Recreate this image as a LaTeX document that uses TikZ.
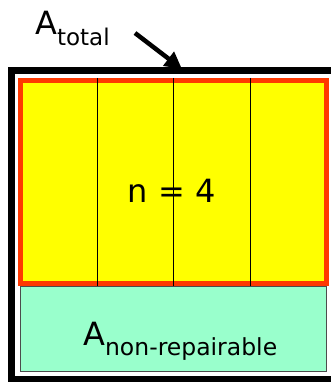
\documentclass[tikz,border=0pt]{standalone}
\usepackage{fontspec}
\setmainfont{DejaVu Sans}
\usetikzlibrary{arrows.meta}
\definecolor{cellyellow}{RGB}{255,255,0}
\definecolor{edgered}{RGB}{255,56,0}
\definecolor{mintgreen}{RGB}{153,255,204}

\begin{document}
\begin{tikzpicture}[x=1pt, y=-1pt,
  outerbox/.style={draw, line width=7pt, minimum width=326pt, minimum height=309pt, inner sep=0pt},
  repbox/.style={draw=edgered, fill=cellyellow, line width=5pt, minimum width=306pt, minimum height=203pt, inner sep=0pt},
  nonbox/.style={draw=black!70, fill=mintgreen, line width=0.8pt, minimum width=305.3pt, minimum height=85pt, inner sep=0pt},
  arr/.style={-{Triangle[length=17pt, width=17pt]}, line width=4.5pt},
  lbl/.style={font=\fontsize{32}{32}\selectfont, inner sep=0pt}
]
  \useasboundingbox (0,0) rectangle (330,382);

  \node[outerbox] (total) at (174.5,225) {};
  \node[nonbox] (nonrep) at (173.35,328.5) {};
  \node[repbox] (rep) at (173.5,182) {};

  % the four cells
  \foreach \i in {1,2,3}
    \draw[line width=0.8pt] ([xshift=\i*76.5pt-153pt]rep.north) -- ([xshift=\i*76.5pt-153pt]rep.south);

  \node[lbl, anchor=base] (n) at (171.5,202) {n = 4};

  \node[lbl, anchor=base west] (atotal) at (35,35) {A\raisebox{-11pt}{\fontsize{23}{23}\selectfont total}};
  \node[lbl, anchor=base west] (anon) at (83,345) {A\raisebox{-10pt}{\fontsize{23.5}{23.5}\selectfont non-repairable}};

  \coordinate (tail) at (135,33);
  \coordinate (hit) at (182,69);
  \draw[arr] (tail) -- (hit);
\end{tikzpicture}
\end{document}
